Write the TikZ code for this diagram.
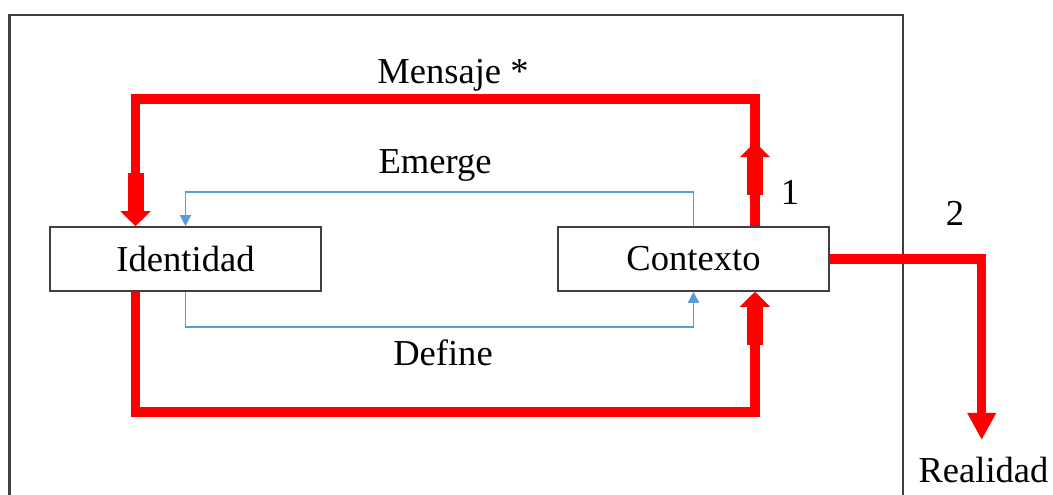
\documentclass[tikz,border=0pt]{standalone}
\usepackage{fontspec}
\setmainfont{Liberation Serif}
\usepackage{tikz}
\usetikzlibrary{arrows.meta}
\usepackage{xcolor}
\definecolor{redcol}{RGB}{255,0,0}
\definecolor{bluecol}{RGB}{91,155,213}
\colorlet{framecol}{black!75}
\tikzset{
  box/.style={draw=framecol,line width=0.45pt,minimum width=2.71cm,minimum height=0.64cm,inner sep=0pt},
  bigred/.style={draw=redcol,line width=0.095cm},
  thinblue/.style={draw=bluecol,line width=0.45pt,-{Triangle[width=1.1mm,length=1.1mm]}},
  lbl/.style={inner sep=0pt},
  blockarrow/.pic={
    \fill[redcol] (-0.08,-0.53) rectangle (0.08,-0.145);
    \fill[redcol] (-0.152,-0.15) -- (0,0) -- (0.152,-0.15) -- cycle;
  }
}

\begin{document}
\begin{tikzpicture}[font=\fontsize{10.4pt}{12pt}\selectfont]
    \useasboundingbox (0,0) rectangle (10.53,4.95);

    % outer frame, open at the bottom
    \draw[framecol,line width=0.6pt] (0.095,0) -- (0.095,4.80) -- (9.027,4.80) -- (9.027,0);

    \node[box] (ident) at (1.855,2.36) {Identidad};
    \node[box] (cont) at (6.935,2.36) {Contexto};

    % blue loop
    \draw[thinblue] (cont.north) -- ++(0,0.34) -| (ident.north);
    \draw[thinblue] (ident.south) -- ++(0,-0.353) -| (cont.south);

    % red loop
    \draw[bigred] ([xshift=6.15mm]cont.north) -- ++(0,1.27) -| ([xshift=-5mm,yshift=2mm]ident.north);
    \draw[bigred] ([xshift=-5mm]ident.south) -- ++(0,-1.2) -| ([xshift=6.15mm,yshift=-2mm]cont.south);
    \pic[rotate=180] at ([xshift=-5mm]ident.north) {blockarrow};
    \pic at ([xshift=6.15mm,yshift=8.4mm]cont.north) {blockarrow};
    \pic at ([xshift=6.15mm]cont.south) {blockarrow};

    % out to reality
    \coordinate (realtip) at (9.817,0.55);
    \draw[bigred,-{Triangle[width=2.7mm,length=2.7mm]}] (cont.east) -| (realtip);

    \node[lbl] (mens) at (4.53,4.20) {Mensaje *};
    \node[lbl] (emer) at (4.35,3.30) {Emerge};
    \node[lbl] (defi) at (4.43,1.42) {Define};
    \node[lbl] (one) at (7.90,3.03) {1};
    \node[lbl] (two) at (9.55,2.82) {2};
    \node[lbl] (real) at (9.835,0.25) {Realidad};
\end{tikzpicture}
\end{document}
